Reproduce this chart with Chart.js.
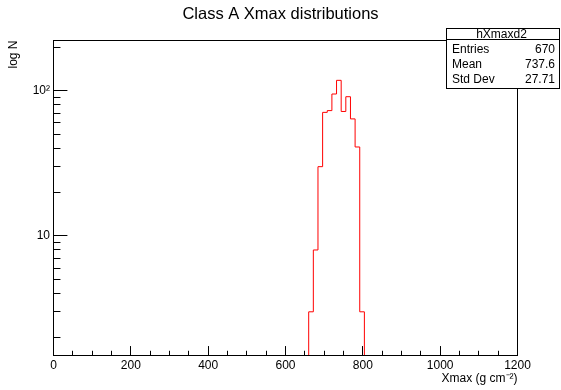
<!DOCTYPE html>
<html>
<head>
<meta charset="utf-8">
<script src="https://cdn.jsdelivr.net/npm/chart.js@4.4.1/dist/chart.umd.min.js"></script>
<style>
  html, body { margin: 0; padding: 0; background: #fff; }
  #wrap { position: relative; width: 561px; height: 390px; overflow: hidden; font-family: 'Liberation Sans', Arial, Helvetica, sans-serif; color: #000; }
  #c { position: absolute; left: 0; top: 0; }
  #stats { position: absolute; left: 446px; top: 28px; width: 114px; height: 61px; box-sizing: border-box; border: 1px solid #000; background: #fff; }
  #statsSep { position: absolute; left: 446px; top: 39px; width: 114px; height: 1px; background: #000; }
  .st { position: absolute; font-size: 12px; line-height: 12px; white-space: nowrap; }
  .lab { left: 452px; }
  .val { right: 6px; text-align: right; }
</style>
</head>
<body>
<div id="wrap">
  <canvas id="c" width="561" height="390"></canvas>
  <div id="stats"></div>
  <div id="statsSep"></div>
  <div class="st" style="left:446px;width:111px;text-align:center;top:28px;" id="statsTitle"></div>
  <div id="statsRows"></div>
</div>
<script>
// ---- data ----
const binLowEdges = [660, 672, 684, 696, 708, 720, 732, 744, 756, 768, 780, 792];
const binCounts   = [3,   8,   30,  71,  73,  95,  118, 72,  91,  64,  41,  3];
const binWidth = 12;

const xTickValues = [0, 200, 400, 600, 800, 1000, 1200];
const xTickLabels = ['0', '200', '400', '600', '800', '1000', '1200'];
const xMinorStep = 50;
const yTickValues = [10, 100];
const yTickLabels = ['10', '10\u00B2'];
const yMinorValues = [2, 3, 4, 5, 6, 7, 8, 9, 20, 30, 40, 50, 60, 70, 80, 90, 200];

const statsName = 'hXmaxd2';
const statsLabels = ['Entries', 'Mean', 'Std Dev'];
const statsValues = ['670', '737.6', '27.71'];

const titleText = 'Class A Xmax distributions';
const xTitle = 'Xmax (g cm\u207B\u00B2)';
const yTitle = 'log N';

// ---- stats box text ----
document.getElementById('statsTitle').textContent = statsName;
const rowsEl = document.getElementById('statsRows');
statsLabels.forEach((l, i) => {
  const top = 43 + i * 15;
  const a = document.createElement('div');
  a.className = 'st lab'; a.style.top = top + 'px'; a.textContent = l;
  const b = document.createElement('div');
  b.className = 'st val'; b.style.top = top + 'px'; b.textContent = statsValues[i];
  rowsEl.appendChild(a); rowsEl.appendChild(b);
});

// ---- histogram outline points built from the bins ----
const pts = [{ x: binLowEdges[0], y: 0 }];
binLowEdges.forEach((x, i) => pts.push({ x: x, y: binCounts[i] }));
pts.push({ x: binLowEdges[binLowEdges.length - 1] + binWidth, y: binCounts[binCounts.length - 1] });
pts.push({ x: binLowEdges[binLowEdges.length - 1] + binWidth, y: 0 });

const FONT = "'Liberation Sans', Arial, Helvetica, sans-serif";

const framePlugin = {
  id: 'rootFrame',
  afterDatasetsDraw(chart) {
    const { ctx, chartArea: a, scales } = chart;
    const x = scales.x, y = scales.y;
    const H = a.bottom - a.top, W = a.right - a.left;
    ctx.save();
    ctx.strokeStyle = '#000';
    ctx.lineWidth = 1;
    ctx.strokeRect(a.left, a.top, W, H);
    ctx.beginPath();
    for (let v = 0; v <= 1200; v += xMinorStep) {
      const px = Math.floor(x.getPixelForValue(v)) + 0.5;
      const len = xTickValues.includes(v) ? 0.03 * H : 0.015 * H;
      ctx.moveTo(px, a.bottom);
      ctx.lineTo(px, a.bottom - len);
    }
    yTickValues.forEach(v => {
      const py = Math.floor(y.getPixelForValue(v)) + 0.5;
      ctx.moveTo(a.left, py); ctx.lineTo(a.left + 0.03 * W, py);
    });
    yMinorValues.forEach(v => {
      const py = Math.floor(y.getPixelForValue(v)) + 0.5;
      ctx.moveTo(a.left, py); ctx.lineTo(a.left + 0.015 * W, py);
    });
    ctx.stroke();
    ctx.restore();
  }
};

new Chart(document.getElementById('c'), {
  type: 'line',
  data: {
    datasets: [{
      data: pts,
      parsing: false,
      stepped: 'before',
      borderColor: '#ff0000',
      borderWidth: 1,
      pointRadius: 0,
      fill: false,
      tension: 0
    }]
  },
  options: {
    responsive: false,
    animation: false,
    devicePixelRatio: 1,
    layout: { padding: 0 },
    plugins: {
      legend: { display: false },
      tooltip: { enabled: false },
      title: {
        display: true,
        text: titleText,
        color: '#000',
        font: { family: FONT, size: 16.5, weight: 'normal' },
        padding: { top: 4.6, bottom: 16.1 }
      }
    },
    scales: {
      x: {
        type: 'linear',
        min: 0, max: 1200,
        grid: { display: false, drawTicks: false },
        border: { display: false },
        afterBuildTicks: s => { s.ticks = xTickValues.map(v => ({ value: v })); },
        ticks: {
          color: '#000', font: { family: FONT, size: 12 }, padding: 3,
          maxRotation: 0, autoSkip: false,
          callback: (v) => xTickLabels[xTickValues.indexOf(v)]
        },
        title: {
          display: true, text: xTitle, align: 'end', color: '#000',
          font: { family: FONT, size: 12 }, padding: { top: 0, bottom: 4.6 }
        },
        afterFit: s => { s.height = 34.5; }
      },
      y: {
        type: 'logarithmic',
        min: 1.5, max: 222,
        grid: { display: false, drawTicks: false },
        border: { display: false },
        afterBuildTicks: s => { s.ticks = yTickValues.map(v => ({ value: v })); },
        ticks: {
          color: '#000', font: { family: FONT, size: 12 }, padding: 3.5,
          autoSkip: false,
          callback: (v) => yTickLabels[yTickValues.indexOf(v)]
        },
        title: {
          display: true, text: yTitle, align: 'end', color: '#000',
          font: { family: FONT, size: 12 }, padding: { top: 6.6, bottom: 0 }
        },
        afterFit: s => { s.width = 53.5; }
      },
      yR: {
        type: 'linear',
        position: 'right',
        display: true,
        grid: { display: false, drawTicks: false },
        border: { display: false },
        ticks: { display: false },
        afterFit: s => { s.width = 43.5; }
      }
    }
  },
  plugins: [framePlugin]
});
</script>
</body>
</html>
